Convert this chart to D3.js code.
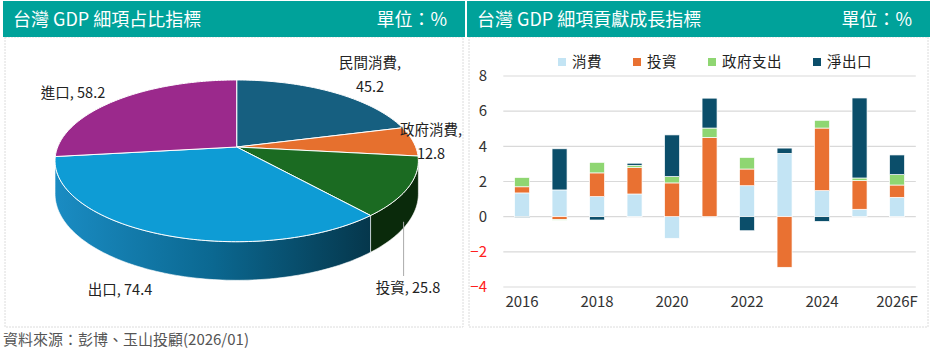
<!DOCTYPE html>
<html lang="zh-Hant">
<head>
<meta charset="UTF-8">
<title>台灣 GDP 細項</title>
<style>
  body { margin: 0; background: #fff; }
  text { font-family: "Noto Sans CJK TC", "Noto Sans", sans-serif; }
</style>
</head>
<body>
<script src="https://d3js.org/d3.v7.min.js"></script>
<script>
// pie data (share of GDP, %)
var pieLabels = ["民間消費", "政府消費", "投資", "出口", "進口"];
var pieValues = [45.2, 12.8, 25.8, 74.4, 58.2];
var pieColors = ["#165f80", "#e6702e", "#1b6b22", "#0e9cd5", "#9b298c"];
var sideColors = ["#0c3a50", "#8a3f17", "#0a2a0b", "url(#sideBlue)", "#5a1752"];

// contribution to growth (%pt)
var years = ["2016", "2017", "2018", "2019", "2020", "2021", "2022", "2023", "2024", "2025", "2026F"];
var consumption = [1.35, 1.52, 1.14, 1.29, -1.23, 0, 1.76, 3.6, 1.48, 0.42, 1.10];
var investment = [0.35, -0.17, 1.35, 1.5, 1.92, 4.51, 0.95, -2.88, 3.56, 1.63, 0.70];
var government = [0.53, -0.03, 0.6, 0.13, 0.36, 0.53, 0.66, 0, 0.44, 0.15, 0.59];
var netExports = [-0.05, 2.34, -0.19, 0.12, 2.37, 1.70, -0.8, 0.30, -0.27, 4.55, 1.12];
var seriesNames = ["消費", "投資", "政府支出", "淨出口"];
var seriesColors = ["#c3e4f4", "#e97132", "#8fd672", "#0b4e6a"];
var yTicks = [-4, -2, 0, 2, 4, 6, 8];

var width = 936, height = 350;
var svg = d3.select("body").append("svg")
    .attr("width", width)
    .attr("height", height);

var defs = svg.append("defs");
var grad = defs.append("linearGradient")
    .attr("id", "sideBlue")
    .attr("gradientUnits", "userSpaceOnUse")
    .attr("x1", 55).attr("x2", 370).attr("y1", 0).attr("y2", 0);
grad.append("stop").attr("offset", 0).attr("stop-color", "#1a8cc3");
grad.append("stop").attr("offset", 0.5).attr("stop-color", "#0b6891");
grad.append("stop").attr("offset", 1).attr("stop-color", "#05374c");

// panels
function panel(x0, x1, title) {
    svg.append("rect")
        .attr("x", x0 + 2).attr("y", 37)
        .attr("width", x1 - x0 - 4).attr("height", 290)
        .attr("fill", "#fff")
        .attr("stroke", "#dcdcdc")
        .attr("stroke-dasharray", "2,1");
    svg.append("rect")
        .attr("x", x0).attr("y", 1)
        .attr("width", x1 - x0).attr("height", 36)
        .attr("fill", "#00a29a");
    svg.append("text")
        .attr("x", x0 + 10).attr("y", 26)
        .attr("fill", "#fff")
        .attr("font-size", 18)
        .text(title);
    svg.append("text")
        .attr("x", x1 - 18).attr("y", 26)
        .attr("text-anchor", "end")
        .attr("fill", "#fff")
        .attr("font-size", 18)
        .text("單位：%");
}
panel(3, 465, "台灣 GDP 細項占比指標");
panel(467, 930, "台灣 GDP 細項貢獻成長指標");

svg.append("text")
    .attr("x", 3).attr("y", 345)
    .attr("fill", "#555")
    .attr("font-size", 15)
    .text("資料來源：彭博、玉山投顧(2026/01)");

// ---------- 3D pie ----------
var CX = 236.7, CY = 147, A = 179, B = 78.5, K = 0.171, DEPTH = 32;

function proj(a, r, depth) {
    var u = r * Math.sin(a), v = -r * Math.cos(a);
    var s = 1 / (1 - K * v);
    return [CX + A * u * s, CY + B * v * s + (depth || 0) * s];
}
function rim(a0, a1, depth) {
    var n = Math.max(2, Math.ceil((a1 - a0) / 0.02));
    return d3.range(n + 1).map(function (i) { return proj(a0 + (a1 - a0) * i / n, 1, depth); });
}

var arcs = d3.pie().sort(null)(pieValues);
var sideA = Math.acos(-K), sideB = 2 * Math.PI - Math.acos(-K);
var line = d3.line();
var pieG = svg.append("g");

// sides
arcs.forEach(function (d, i) {
    var a0 = Math.max(d.startAngle, sideA), a1 = Math.min(d.endAngle, sideB);
    if (a1 <= a0) return;
    var pts = rim(a0, a1, 0).concat(rim(a0, a1, DEPTH).reverse());
    pieG.append("path")
        .attr("d", line(pts) + "Z")
        .attr("fill", sideColors[i])
        .attr("stroke", "#fff")
        .attr("stroke-width", 0.6);
});

// top faces
arcs.forEach(function (d, i) {
    var pts = [proj(0, 0)].concat(rim(d.startAngle, d.endAngle, 0));
    pieG.append("path")
        .attr("d", line(pts) + "Z")
        .attr("fill", pieColors[i])
        .attr("stroke", "#fff")
        .attr("stroke-width", 1);
});

// leader line for 投資
var inv = arcs[2];
var lp = proj((inv.startAngle + inv.endAngle) / 2, 1, DEPTH);
pieG.append("line")
    .attr("x1", lp[0] - 5).attr("x2", lp[0] - 5)
    .attr("y1", lp[1]).attr("y2", 276)
    .attr("stroke", "#aaa").attr("stroke-width", 1);

// labels: [x center, first baseline, two lines?]
var labelPos = [[370, 68, true], [431, 135, true], [408, 293, false], [120, 295, false], [73, 98, false]];
arcs.forEach(function (d, i) {
    var p = labelPos[i];
    var t = pieG.append("text")
        .attr("text-anchor", "middle")
        .attr("font-size", 14.5)
        .attr("fill", "#222");
    if (p[2]) {
        t.append("tspan").attr("x", p[0]).attr("y", p[1]).text(pieLabels[i] + ",");
        t.append("tspan").attr("x", p[0]).attr("y", p[1] + 24).text(pieValues[i].toFixed(1));
    } else {
        t.attr("x", p[0]).attr("y", p[1]).text(pieLabels[i] + ", " + pieValues[i].toFixed(1));
    }
});

// ---------- stacked bars ----------
var x = d3.scaleBand()
    .domain(years)
    .range([503.3, 915.8])
    .paddingInner(0.6)
    .paddingOuter(0.3);
var y = d3.scaleLinear().domain([-4, 8]).range([287, 76]);

var barG = svg.append("g");
barG.selectAll(".grid")
    .data(yTicks)
    .enter().append("line")
    .attr("x1", 503.3).attr("x2", 915.8)
    .attr("y1", function (d) { return y(d); })
    .attr("y2", function (d) { return y(d); })
    .attr("stroke", "#d9d9d9")
    .attr("stroke-width", 1.2);

var yAxis = d3.axisLeft(y).tickValues(yTicks).tickSize(0).tickPadding(0);
var yg = barG.append("g").attr("transform", "translate(487,0)").call(yAxis);
yg.select(".domain").remove();
yg.selectAll("text")
    .attr("font-size", 15)
    .attr("font-family", "'Noto Sans CJK TC', sans-serif")
    .attr("fill", function (d) { return d < 0 ? "#ff2020" : "#333"; });

var xAxis = d3.axisBottom(x)
    .tickValues(years.filter(function (d, i) { return i % 2 === 0; }))
    .tickSize(0).tickPadding(0);
var xg = barG.append("g").attr("transform", "translate(0,296)").call(xAxis);
xg.select(".domain").remove();
xg.selectAll("text")
    .attr("font-size", 15)
    .attr("font-family", "'Noto Sans CJK TC', sans-serif")
    .attr("fill", "#333");

var table = years.map(function (yr, i) {
    return { year: yr, "消費": consumption[i], "投資": investment[i], "政府支出": government[i], "淨出口": netExports[i] };
});
var stacked = d3.stack().keys(seriesNames).offset(d3.stackOffsetDiverging)(table);

barG.selectAll(".series")
    .data(stacked)
    .enter().append("g")
    .attr("fill", function (d, i) { return seriesColors[i]; })
    .selectAll("rect")
    .data(function (d) { return d; })
    .enter().append("rect")
    .attr("x", function (d) { return x(d.data.year); })
    .attr("width", x.bandwidth())
    .attr("y", function (d) { return y(Math.max(d[0], d[1])); })
    .attr("height", function (d) { return Math.abs(y(d[0]) - y(d[1])); })
    .attr("stroke", "#fff")
    .attr("stroke-width", 0.7);

// legend
var legendX = [558, 633, 708, 813];
var lg = barG.selectAll(".legend")
    .data(seriesNames)
    .enter().append("g")
    .attr("transform", function (d, i) { return "translate(" + legendX[i] + ",58)"; });
lg.append("rect")
    .attr("width", 8).attr("height", 8)
    .attr("fill", function (d, i) { return seriesColors[i]; });
lg.append("text")
    .attr("x", 14).attr("y", 9)
    .attr("font-size", 14.5)
    .attr("fill", "#222")
    .attr("letter-spacing", 0.5)
    .text(function (d) { return d; });
</script>
</body>
</html>
